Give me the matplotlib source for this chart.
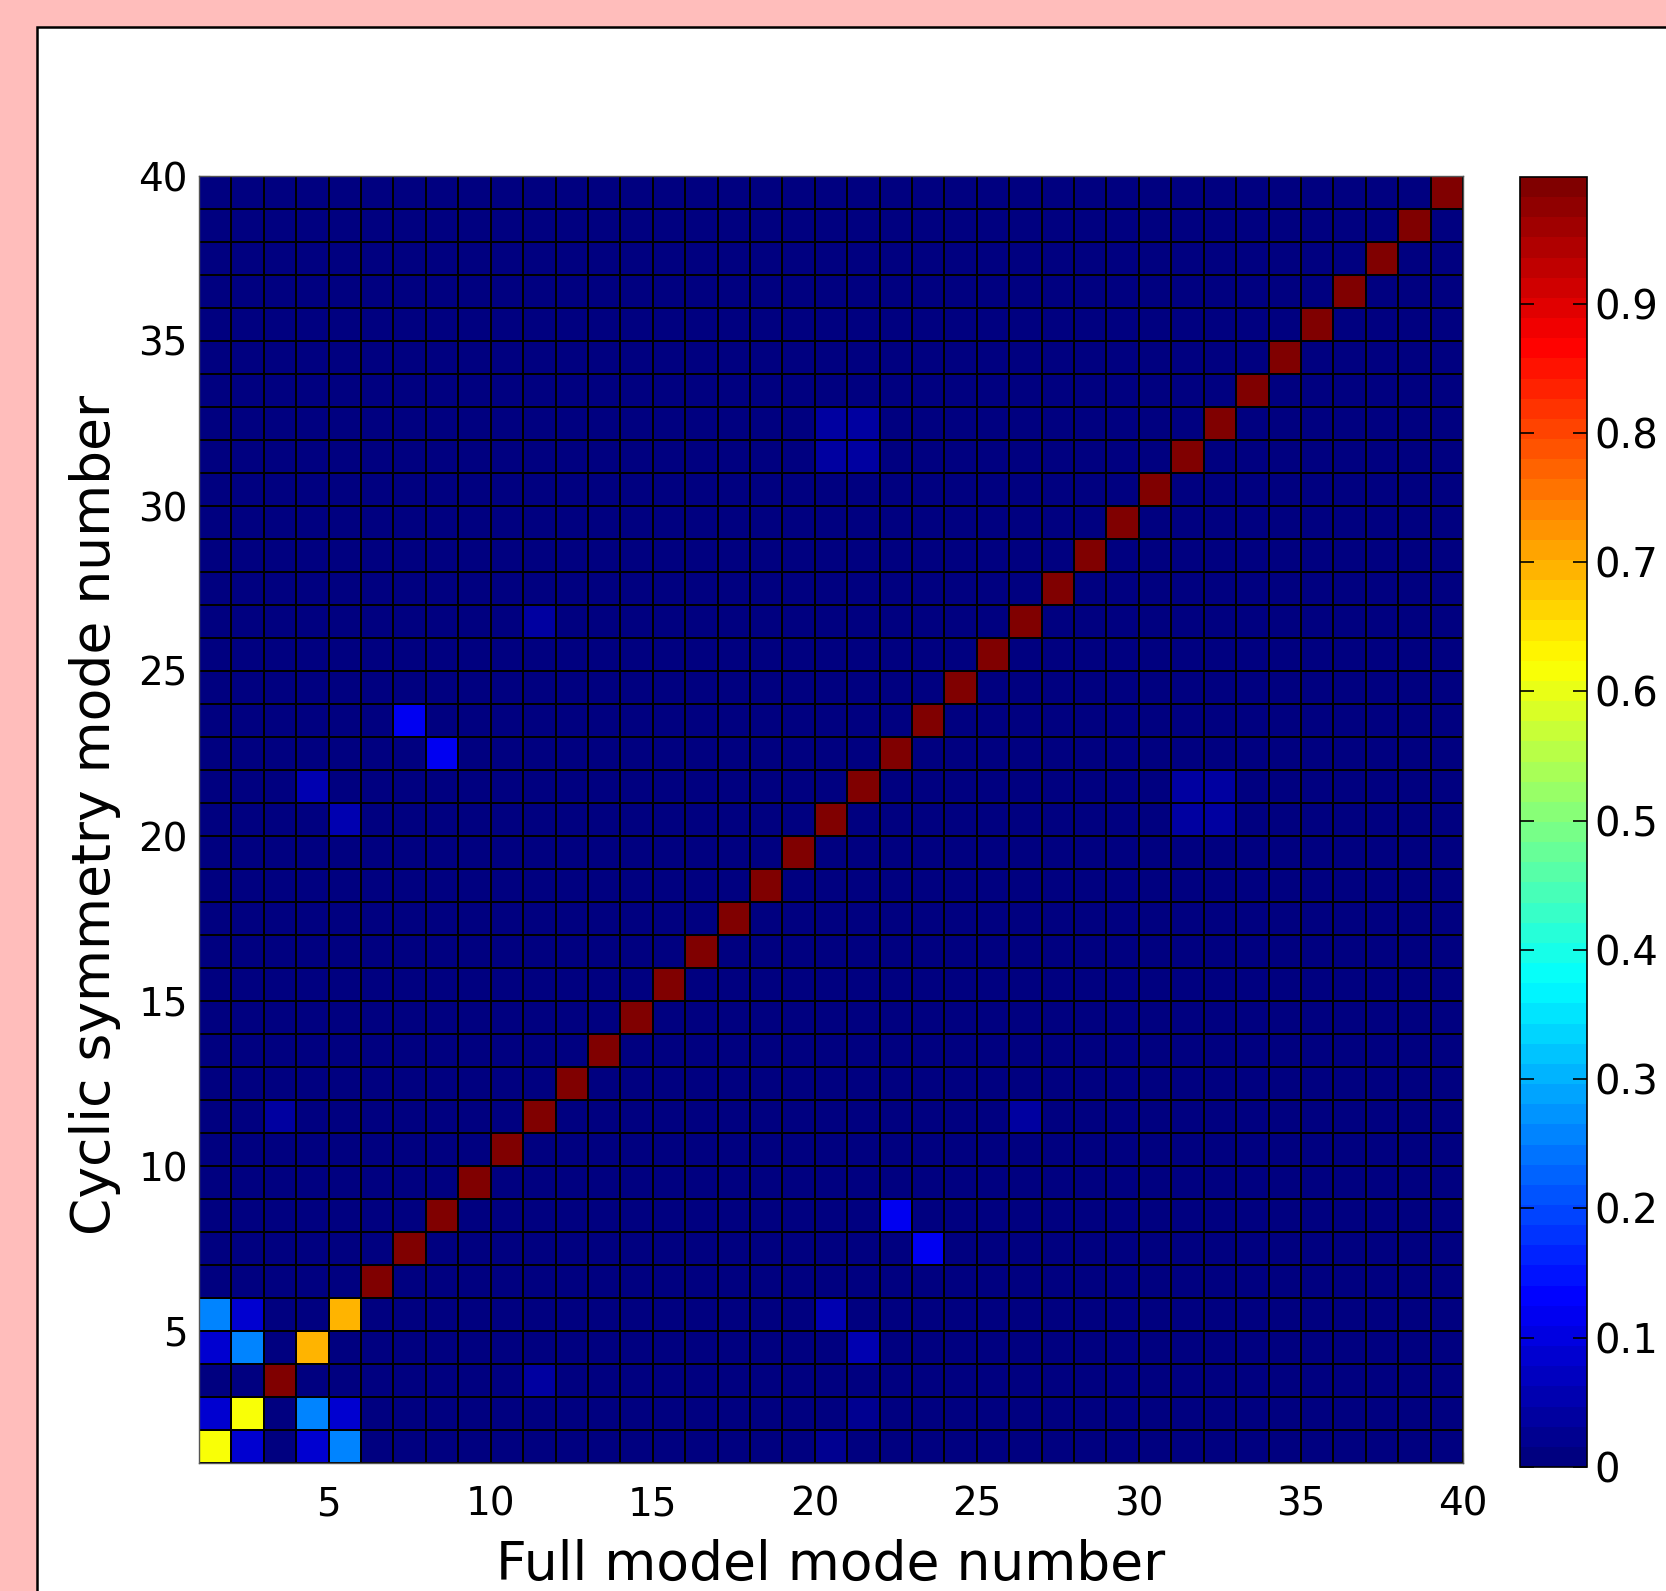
import numpy as np
import matplotlib
matplotlib.use("Agg")
import matplotlib.pyplot as plt
from matplotlib.patches import Rectangle
from matplotlib.colors import Normalize, LinearSegmentedColormap

plt.rcParams['font.family'] = ['DejaVu Sans']

# ---- data ----
n_modes = 40                      # mode numbers 1..40 (pcolor shows 39x39 cells)
background = 0.005                # typical off-diagonal MAC value
diag_values = [0.62, 0.62, 0.99, 0.695, 0.695] + [0.99] * 34
# off-diagonal entries: (full model mode, cyclic mode, value)
off_cols = [2, 4, 5, 1, 4, 5, 1, 2, 1, 2, 11, 3, 26, 11, 7, 8, 4, 5,
            20, 21, 20, 21, 31, 32, 31, 32, 22, 23, 20, 21, 21, 20]
off_rows = [1, 1, 1, 2, 2, 2, 4, 4, 5, 5, 3, 11, 11, 26, 23, 22, 21, 20,
            32, 32, 31, 31, 21, 21, 20, 20, 8, 7, 5, 4, 2, 1]
off_vals = [0.086, 0.086, 0.257, 0.086, 0.257, 0.086, 0.086, 0.257, 0.257, 0.086,
            0.035, 0.045, 0.040, 0.045, 0.115, 0.115, 0.060, 0.060,
            0.045, 0.045, 0.045, 0.045, 0.045, 0.045, 0.045, 0.045,
            0.115, 0.115, 0.055, 0.055, 0.025, 0.025]
vmin, vmax = 0.0, 0.998
xticks = [5, 10, 15, 20, 25, 30, 35, 40]
yticks = [5, 10, 15, 20, 25, 30, 35, 40]
cbar_ticks = [0, 0.1, 0.2, 0.3, 0.4, 0.5, 0.6, 0.7, 0.8, 0.9]
cbar_labels = ['0', '0.1', '0.2', '0.3', '0.4', '0.5', '0.6', '0.7', '0.8', '0.9']
xlabel = 'Full model mode number'
ylabel = 'Cyclic symmetry mode number'

# ---- build matrix ----
ncell = n_modes - 1
C = np.full((ncell, ncell), background)
for k, v in enumerate(diag_values):
    C[k, k] = v
for c, r, v in zip(off_cols, off_rows, off_vals):
    C[r - 1, c - 1] = v
edges = np.arange(1, n_modes + 1)

# MATLAB-style jet colormap with 64 levels
matlab_jet = LinearSegmentedColormap('matlab_jet', {
    'red':   [(0, 0, 0), (3 / 8, 0, 0), (5 / 8, 1, 1), (7 / 8, 1, 1), (1, 0.5, 0.5)],
    'green': [(0, 0, 0), (1 / 8, 0, 0), (3 / 8, 1, 1), (5 / 8, 1, 1), (7 / 8, 0, 0), (1, 0, 0)],
    'blue':  [(0, 0.5, 0.5), (1 / 8, 1, 1), (3 / 8, 1, 1), (5 / 8, 0, 0), (1, 0, 0)],
}, N=64)

W, H = 1666, 1591
fig = plt.figure(figsize=(W / 100, H / 100), dpi=100)
fig.patch.set_facecolor('#FFBDBB')

# white panel
panel = Rectangle((37 / W, -0.05), 1.2, 1 - 27 / H + 0.05, transform=fig.transFigure,
                  facecolor='white', edgecolor='black', linewidth=1.8, zorder=-10)
fig.patches.append(panel)

norm = Normalize(vmin=vmin, vmax=vmax)

ax = fig.add_axes([199 / W, 1 - 1463 / H, (1463 - 199) / W, (1463 - 176) / H])
ax.set_zorder(1)
ax.set_facecolor('white')
mesh = ax.pcolormesh(edges, edges, C, cmap=matlab_jet, norm=norm,
                     edgecolors='black', linewidth=1.1)
ax.set_xlim(1, n_modes)
ax.set_ylim(1, n_modes)
ax.set_axisbelow(True)
ax.set_xticks(xticks)
ax.set_yticks(yticks)
ax.tick_params(direction='in', length=8, labelsize=28, top=False, right=False)
ax.tick_params(axis='x', pad=16)
ax.tick_params(axis='y', pad=8)
for sp in ax.spines.values():
    sp.set_color('#555555')
    sp.set_linewidth(1.0)

fig.text(831 / W, 1 - 1580 / H, xlabel, ha='center', va='baseline', fontsize=38.5, zorder=2)
fig.text(110 / W, 1 - 815 / H, ylabel, ha='center', va='baseline', fontsize=38.5,
         rotation=90, rotation_mode='anchor', zorder=2)

cax = fig.add_axes([1520 / W, 1 - 1467 / H, (1587 - 1520) / W, (1467 - 177) / H])
cax.set_zorder(1)
cb = fig.colorbar(mesh, cax=cax)
cb.set_ticks(cbar_ticks)
cb.set_ticklabels(cbar_labels)
cax.yaxis.set_ticks_position('both')
cax.tick_params(direction='in', length=10, width=1.2, labelsize=29, pad=5,
                left=True, right=True, labelleft=False, labelright=True)
cb.outline.set_edgecolor('black')
cb.outline.set_linewidth(1.2)

fig.savefig('out.png', dpi=100, facecolor=fig.get_facecolor())
